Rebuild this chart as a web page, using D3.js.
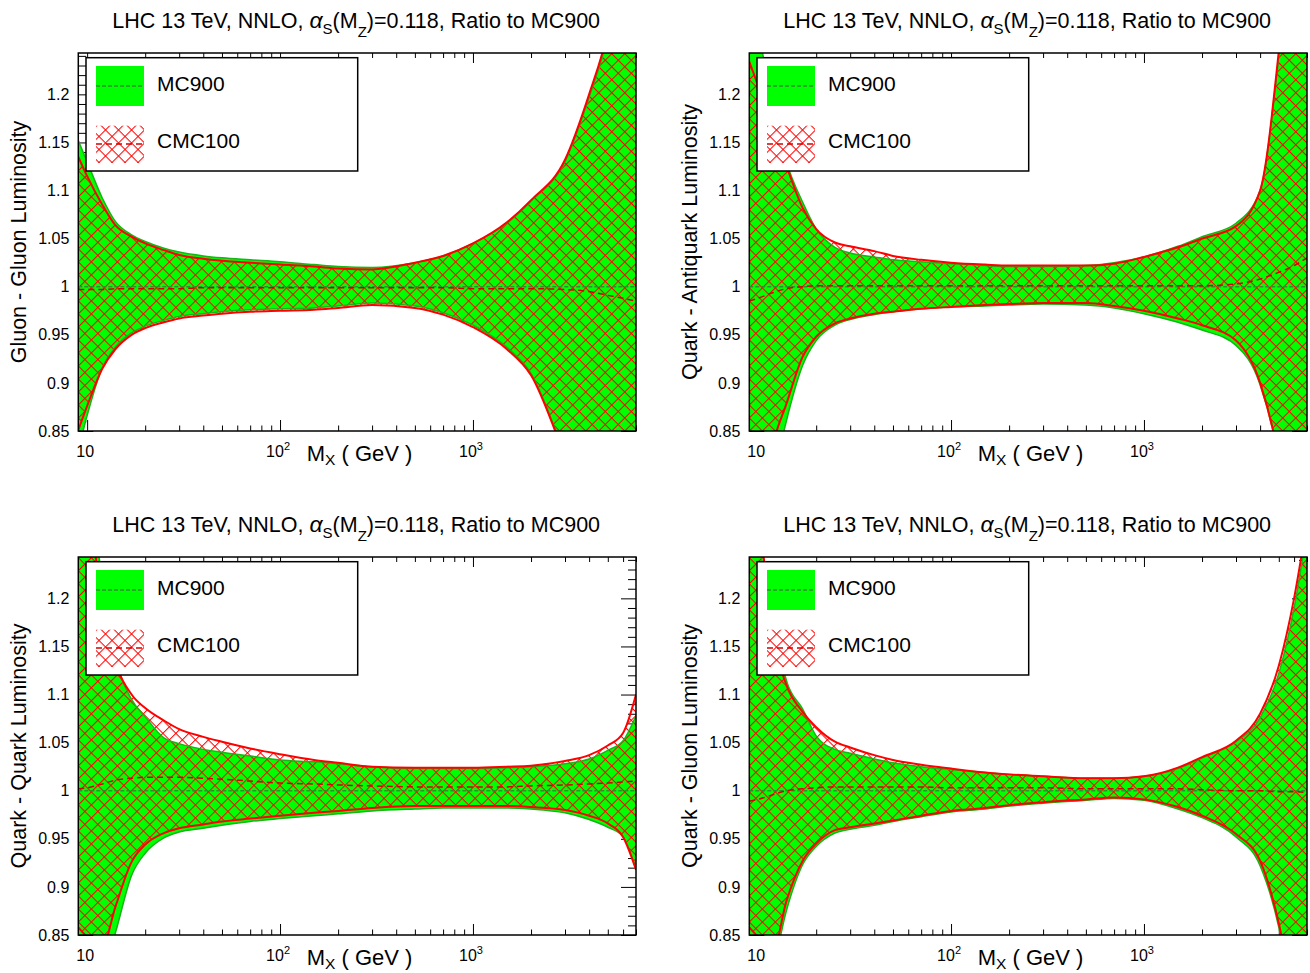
<!DOCTYPE html>
<html>
<head>
<meta charset="utf-8">
<script src="https://cdn.jsdelivr.net/npm/d3@7"></script>
<style>
  body { margin: 0; background: #fff; }
  svg { display: block; font-family: "Liberation Sans", Arial, Helvetica, sans-serif; }
</style>
</head>
<body>
<svg id="chart" width="1310" height="973"></svg>
<script>
// invariant mass grid (GeV), shared by all four luminosity ratios
const massGeV = [9, 10, 12, 14, 17, 20, 25, 30, 40, 50, 70, 100, 150, 200, 300, 500, 700, 1000, 1500, 2000, 3000, 4000, 5000, 6000, 7000];

// gluon - gluon
const ggMcUp   = [1.152, 1.130, 1.092, 1.068, 1.054, 1.047, 1.040, 1.036, 1.032, 1.030, 1.028, 1.026, 1.023, 1.021, 1.020, 1.025, 1.032, 1.045, 1.066, 1.089, 1.130, 1.197, 1.260, 1.340, 1.420];
const ggMcLo   = [0.830, 0.866, 0.916, 0.937, 0.952, 0.959, 0.965, 0.969, 0.972, 0.974, 0.976, 0.977, 0.978, 0.980, 0.983, 0.980, 0.973, 0.960, 0.937, 0.910, 0.827, 0.772, 0.712, 0.652, 0.602];
const ggCmcUp  = [1.135, 1.115, 1.085, 1.064, 1.052, 1.045, 1.038, 1.033, 1.029, 1.027, 1.025, 1.023, 1.021, 1.019, 1.018, 1.025, 1.032, 1.045, 1.067, 1.090, 1.132, 1.200, 1.265, 1.350, 1.430];
const ggCmcLo  = [0.851, 0.876, 0.915, 0.935, 0.950, 0.957, 0.963, 0.967, 0.970, 0.972, 0.974, 0.975, 0.976, 0.978, 0.981, 0.978, 0.971, 0.958, 0.935, 0.908, 0.825, 0.770, 0.710, 0.650, 0.600];
const ggCmcMid = [0.997, 0.997, 0.997, 0.998, 0.998, 0.998, 0.998, 0.998, 0.999, 0.999, 0.999, 0.999, 0.999, 0.999, 0.999, 0.999, 0.999, 0.998, 0.998, 0.998, 0.997, 0.995, 0.991, 0.988, 0.985];

// quark - antiquark
const qqbarMcUp   = [1.300, 1.265, 1.185, 1.130, 1.088, 1.060, 1.041, 1.035, 1.031, 1.028, 1.026, 1.024, 1.022, 1.021, 1.021, 1.022, 1.025, 1.031, 1.042, 1.052, 1.066, 1.100, 1.240, 1.400, 1.500];
const qqbarMcLo   = [0.650, 0.700, 0.800, 0.860, 0.918, 0.944, 0.960, 0.966, 0.971, 0.974, 0.977, 0.979, 0.980, 0.981, 0.982, 0.981, 0.978, 0.972, 0.963, 0.955, 0.939, 0.898, 0.820, 0.700, 0.600];
const qqbarCmcUp  = [1.234, 1.209, 1.164, 1.126, 1.082, 1.060, 1.046, 1.042, 1.037, 1.032, 1.028, 1.025, 1.023, 1.022, 1.022, 1.022, 1.024, 1.031, 1.041, 1.050, 1.063, 1.100, 1.245, 1.420, 1.600];
const qqbarCmcLo  = [0.700, 0.750, 0.838, 0.878, 0.927, 0.948, 0.962, 0.967, 0.972, 0.974, 0.977, 0.979, 0.981, 0.982, 0.983, 0.983, 0.980, 0.975, 0.967, 0.960, 0.944, 0.900, 0.820, 0.700, 0.600];
const qqbarCmcMid = [0.985, 0.988, 0.994, 0.998, 1.000, 1.001, 1.001, 1.001, 1.001, 1.001, 1.001, 1.001, 1.001, 1.001, 1.001, 1.001, 1.001, 1.001, 1.001, 1.001, 1.003, 1.008, 1.015, 1.022, 1.030];

// quark - quark
const qqMcUp   = [1.400, 1.330, 1.220, 1.140, 1.095, 1.077, 1.055, 1.049, 1.043, 1.040, 1.036, 1.032, 1.030, 1.028, 1.025, 1.023, 1.023, 1.023, 1.024, 1.025, 1.028, 1.033, 1.042, 1.052, 1.078];
const qqMcLo   = [0.780, 0.790, 0.810, 0.852, 0.912, 0.935, 0.951, 0.957, 0.961, 0.964, 0.968, 0.971, 0.974, 0.976, 0.979, 0.981, 0.982, 0.982, 0.982, 0.981, 0.977, 0.970, 0.962, 0.952, 0.918];
const qqCmcUp  = [1.350, 1.300, 1.200, 1.135, 1.100, 1.086, 1.073, 1.064, 1.056, 1.051, 1.044, 1.038, 1.032, 1.029, 1.025, 1.024, 1.024, 1.024, 1.025, 1.026, 1.031, 1.037, 1.047, 1.060, 1.100];
const qqCmcLo  = [0.858, 0.848, 0.838, 0.879, 0.926, 0.944, 0.956, 0.961, 0.965, 0.968, 0.971, 0.974, 0.977, 0.979, 0.982, 0.984, 0.984, 0.984, 0.984, 0.983, 0.980, 0.974, 0.966, 0.952, 0.918];
const qqCmcMid = [1.002, 1.003, 1.007, 1.011, 1.013, 1.014, 1.014, 1.014, 1.013, 1.012, 1.010, 1.008, 1.007, 1.006, 1.005, 1.004, 1.004, 1.004, 1.004, 1.005, 1.006, 1.007, 1.008, 1.009, 1.010];

// quark - gluon
const qgMcUp   = [1.450, 1.280, 1.180, 1.115, 1.085, 1.057, 1.043, 1.039, 1.033, 1.029, 1.025, 1.022, 1.019, 1.017, 1.015, 1.013, 1.013, 1.015, 1.023, 1.034, 1.051, 1.076, 1.122, 1.190, 1.270];
const qgMcLo   = [0.800, 0.800, 0.820, 0.875, 0.923, 0.942, 0.956, 0.960, 0.964, 0.968, 0.973, 0.978, 0.981, 0.984, 0.987, 0.990, 0.992, 0.990, 0.981, 0.972, 0.952, 0.922, 0.858, 0.770, 0.700];
const qgCmcUp  = [1.400, 1.300, 1.160, 1.110, 1.082, 1.066, 1.051, 1.045, 1.037, 1.032, 1.027, 1.023, 1.019, 1.017, 1.015, 1.013, 1.013, 1.015, 1.024, 1.035, 1.052, 1.080, 1.130, 1.200, 1.280];
const qgCmcLo  = [0.858, 0.848, 0.835, 0.885, 0.927, 0.945, 0.959, 0.962, 0.966, 0.969, 0.974, 0.979, 0.982, 0.985, 0.988, 0.991, 0.993, 0.991, 0.983, 0.974, 0.955, 0.927, 0.862, 0.780, 0.700];
const qgCmcMid = [0.989, 0.991, 0.996, 1.000, 1.002, 1.003, 1.004, 1.004, 1.004, 1.004, 1.004, 1.003, 1.003, 1.003, 1.003, 1.002, 1.002, 1.002, 1.002, 1.001, 1.000, 1.000, 0.999, 0.999, 0.998];

// axis ticks and labels
const xMajor = [10, 100, 1000];
const xMajorExp = ["", "2", "3"];
const xMinor = [20, 30, 40, 50, 60, 70, 80, 90, 200, 300, 400, 500, 600, 700, 800, 900, 2000, 3000, 4000, 5000, 6000, 7000];
const yMajor = [0.85, 0.9, 0.95, 1.0, 1.05, 1.1, 1.15, 1.2];
const yMinor = d3.range(86, 125).filter(v => v % 5 !== 0).map(v => v / 100);

const legendNames = ["MC900", "CMC100"];
const titleLead = "LHC 13 TeV, NNLO, ";
const titleTail = "=0.118, Ratio to MC900";

const panels = [
  { yTitle: "Gluon - Gluon Luminosity",       col: 0, row: 0, mcUp: ggMcUp,    mcLo: ggMcLo,    cmcUp: ggCmcUp,    cmcLo: ggCmcLo,    cmcMid: ggCmcMid },
  { yTitle: "Quark - Antiquark Luminosity",   col: 1, row: 0, mcUp: qqbarMcUp, mcLo: qqbarMcLo, cmcUp: qqbarCmcUp, cmcLo: qqbarCmcLo, cmcMid: qqbarCmcMid },
  { yTitle: "Quark - Quark Luminosity",       col: 0, row: 1, mcUp: qqMcUp,    mcLo: qqMcLo,    cmcUp: qqCmcUp,    cmcLo: qqCmcLo,    cmcMid: qqCmcMid },
  { yTitle: "Quark - Gluon Luminosity",       col: 1, row: 1, mcUp: qgMcUp,    mcLo: qgMcLo,    cmcUp: qgCmcUp,    cmcLo: qgCmcLo,    cmcMid: qgCmcMid }
];

const colStep = 671, rowStep = 504;
const plot = { left: 78.3, top: 53, width: 557.7, height: 378 };
const green = "#00ff00", red = "#ff0000";

const svg = d3.select("#chart");
const defs = svg.append("defs");

// ROOT style cross hatch
const hs = 9.2;
const hatch = defs.append("pattern")
  .attr("id", "hatch")
  .attr("patternUnits", "userSpaceOnUse")
  .attr("width", hs).attr("height", hs)
  .attr("patternTransform", "rotate(45)");
hatch.append("rect").attr("width", hs).attr("height", 1).attr("fill", red);
hatch.append("rect").attr("width", 1).attr("height", hs).attr("fill", red);

const x = d3.scaleLog().domain([9, 7000]).range([0, plot.width]);
const y = d3.scaleLinear().domain([0.85, 1.243]).range([plot.height, 0]);

const band = (lo, hi) => d3.area()
  .x(d => x(d.m)).y0(d => y(d[lo])).y1(d => y(d[hi]))
  .curve(d3.curveMonotoneX);
const curve = key => d3.line().x(d => x(d.m)).y(d => y(d[key])).curve(d3.curveMonotoneX);

function tickAxis(g, axis) {
  g.call(axis);
  g.select(".domain").remove();
  g.selectAll(".tick line").attr("stroke", "#000").attr("stroke-width", 1);
  return g;
}

panels.forEach((p, idx) => {
  const rows = massGeV.map((m, i) => ({
    m, mcUp: p.mcUp[i], mcLo: p.mcLo[i], cmcUp: p.cmcUp[i], cmcLo: p.cmcLo[i], cmcMid: p.cmcMid[i]
  }));

  const g = svg.append("g")
    .attr("transform", `translate(${p.col * colStep + plot.left},${p.row * rowStep + plot.top})`);

  // ticks on all four sides (drawn under the bands)
  const noLab = () => "";
  tickAxis(g.append("g").attr("transform", `translate(0,${plot.height})`),
    d3.axisBottom(x).tickValues(xMajor).tickSize(-11).tickFormat(noLab));
  tickAxis(g.append("g").attr("transform", `translate(0,${plot.height})`),
    d3.axisBottom(x).tickValues(xMinor).tickSize(-5.5).tickFormat(noLab));
  tickAxis(g.append("g"), d3.axisTop(x).tickValues(xMajor).tickSize(-10).tickFormat(noLab));
  tickAxis(g.append("g"), d3.axisTop(x).tickValues(xMinor).tickSize(-5).tickFormat(noLab));
  tickAxis(g.append("g"), d3.axisLeft(y).tickValues(yMinor).tickSize(-8).tickFormat(noLab));
  const yAx = tickAxis(g.append("g"),
    d3.axisLeft(y).tickValues(yMajor).tickSize(-15).tickPadding(9).tickFormat(d => String(+d.toFixed(2))));
  yAx.attr("font-size", null).attr("font-family", null);
  yAx.selectAll("text").attr("font-size", 16).attr("fill", "#000");
  tickAxis(g.append("g").attr("transform", `translate(${plot.width},0)`),
    d3.axisRight(y).tickValues(yMinor).tickSize(-8).tickFormat(noLab));
  tickAxis(g.append("g").attr("transform", `translate(${plot.width},0)`),
    d3.axisRight(y).tickValues(yMajor).tickSize(-15).tickFormat(noLab));

  // bands
  defs.append("clipPath").attr("id", `clip${idx}`)
    .append("rect").attr("width", plot.width).attr("height", plot.height);
  const area = g.append("g").attr("clip-path", `url(#clip${idx})`);

  area.append("path").datum(rows).attr("d", band("mcLo", "mcUp")).attr("fill", green);
  area.append("path").datum(rows).attr("d", band("cmcLo", "cmcUp")).attr("fill", "url(#hatch)");

  ["mcUp", "mcLo"].forEach(k => area.append("path").datum(rows).attr("d", curve(k))
    .attr("fill", "none").attr("stroke", "#18b418").attr("stroke-width", 1.5));
  ["cmcUp", "cmcLo"].forEach(k => area.append("path").datum(rows).attr("d", curve(k))
    .attr("fill", "none").attr("stroke", red).attr("stroke-width", 2));

  // central values: MC900 is the reference (ratio 1)
  area.append("line")
    .attr("x1", 0).attr("x2", plot.width).attr("y1", y(1)).attr("y2", y(1))
    .attr("stroke", "#2f8f2f").attr("stroke-width", 1.5).attr("stroke-dasharray", "4,2");
  area.append("path").datum(rows).attr("d", curve("cmcMid"))
    .attr("fill", "none").attr("stroke", "#d40000").attr("stroke-width", 1.5).attr("stroke-dasharray", "6,4");

  // frame
  g.append("rect").attr("width", plot.width).attr("height", plot.height)
    .attr("fill", "none").attr("stroke", "#000").attr("stroke-width", 1.5);

  // x tick labels 10, 10^2, 10^3
  xMajor.forEach((v, i) => {
    const t = g.append("text").attr("x", x(v) - 2).attr("y", plot.height + 26)
      .attr("text-anchor", "middle").attr("font-size", 16).text("10");
    if (xMajorExp[i]) t.append("tspan").attr("font-size", 11).attr("dy", -7).text(xMajorExp[i]);
  });

  // x title
  const xt = g.append("text").attr("x", 228.4).attr("y", plot.height + 30).attr("font-size", 22).text("M");
  xt.append("tspan").attr("font-size", 15.5).attr("dy", 4).text("X");
  xt.append("tspan").attr("dy", -4).text(" ( GeV )");

  // y title
  g.append("text")
    .attr("transform", `translate(-52.3,${plot.height / 2})rotate(-90)`)
    .attr("text-anchor", "middle").attr("font-size", 21.5).text(p.yTitle);

  // panel title
  const tt = g.append("text").attr("x", plot.width / 2 - 1).attr("y", -25)
    .attr("text-anchor", "middle").attr("font-size", 21.5).text(titleLead);
  tt.append("tspan").attr("font-size", 23).attr("font-style", "italic").text("\u03b1");
  tt.append("tspan").attr("font-size", 15).attr("dy", 6).text("S");
  tt.append("tspan").attr("dy", -6).text("(M");
  tt.append("tspan").attr("font-size", 15).attr("dy", 9).text("Z");
  tt.append("tspan").attr("dy", -9).text(")" + titleTail);

  // legend
  const lg = g.append("g").attr("transform", "translate(7.7,4.7)");
  lg.append("rect").attr("width", 271.7).attr("height", 113.3)
    .attr("fill", "#fff").attr("stroke", "#000").attr("stroke-width", 1.5);
  lg.append("rect").attr("x", 10).attr("y", 8.3).attr("width", 48).attr("height", 40).attr("fill", green);
  lg.append("line").attr("x1", 10).attr("x2", 58).attr("y1", 28.3).attr("y2", 28.3)
    .attr("stroke", "#2f8f2f").attr("stroke-width", 1.5).attr("stroke-dasharray", "4,2");
  lg.append("rect").attr("x", 10).attr("y", 68).attr("width", 48).attr("height", 37.3).attr("fill", "url(#hatch)");
  lg.append("line").attr("x1", 10).attr("x2", 58).attr("y1", 86.3).attr("y2", 86.3)
    .attr("stroke", "#d40000").attr("stroke-width", 1.5).attr("stroke-dasharray", "6,4");
  lg.append("text").attr("x", 71).attr("y", 33).attr("font-size", 21).text(legendNames[0]);
  lg.append("text").attr("x", 71).attr("y", 90).attr("font-size", 21).text(legendNames[1]);
});
</script>
</body>
</html>
